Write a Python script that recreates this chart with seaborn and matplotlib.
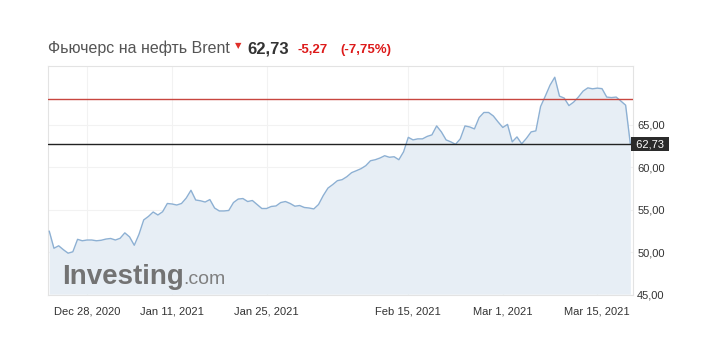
import numpy as np
import pandas as pd
import matplotlib
matplotlib.use("Agg")
import matplotlib.pyplot as plt
import matplotlib.transforms as mtransforms
import seaborn as sns

# ---------------- data ----------------
title_text = "Фьючерс на нефть Brent"
last_price = 62.73
prev_close = 68.00
change_text = "-5,27"
change_pct_text = "(-7,75%)"

start_date = "2020-12-21"
end_date = "2021-03-18"
holidays = ["2020-12-25", "2021-01-01"]
samples_per_day = 2

# price, two readings per trading day
prices = [
    52.51, 50.49, 50.78, 50.32, 49.91, 50.08, 51.54, 51.37, 51.46, 51.46,
    51.37, 51.43, 51.57, 51.64, 51.46, 51.66, 52.30, 51.83, 50.84, 52.13,
    53.82, 54.23, 54.75, 54.40, 54.78, 55.75, 55.69, 55.57, 55.75, 56.39,
    57.30, 56.16, 56.07, 55.92, 56.21, 55.22, 54.87, 54.87, 54.93, 55.86,
    56.27, 56.33, 55.98, 56.10, 55.63, 55.16, 55.16, 55.40, 55.46, 55.86,
    55.98, 55.75, 55.43, 55.51, 55.28, 55.22, 55.11, 55.63, 56.68, 57.56,
    57.97, 58.43, 58.55, 58.90, 59.37, 59.60, 59.84, 60.19, 60.77, 60.89,
    61.09, 61.36, 61.18, 61.24, 60.89, 61.82, 63.52, 63.22, 63.34, 63.34,
    63.63, 63.81, 64.86, 64.16, 63.22, 62.99, 62.70, 63.34, 64.86, 64.74,
    64.51, 65.85, 66.44, 66.44, 66.03, 65.33, 64.68, 65.04, 62.99, 63.57,
    62.76, 63.40, 64.16, 64.28, 67.14, 68.36, 69.65, 70.58, 68.36, 68.13,
    67.25, 67.66, 68.25, 68.95, 69.33, 69.22, 69.30, 69.24, 68.25, 68.19,
    68.25, 67.78, 67.30, 62.73,
]

tick_dates = ["2020-12-28", "2021-01-11", "2021-01-25",
              "2021-02-15", "2021-03-01", "2021-03-15"]
tick_labels = ["Dec 28, 2020", "Jan 11, 2021", "Jan 25, 2021",
               "Feb 15, 2021", "Mar 1, 2021", "Mar 15, 2021"]
y_ticks = [45, 50, 55, 60, 65]
y_tick_labels = ["45,00", "50,00", "55,00", "60,00", "65,00"]

# ---------------- build trading-day axis ----------------
days = pd.bdate_range(start_date, end_date)
days = days[~days.isin(pd.to_datetime(holidays))]
day_index = {d: i for i, d in enumerate(days)}
t = np.arange(len(prices)) / samples_per_day
tick_pos = [day_index[pd.Timestamp(d)] for d in tick_dates]
df = pd.DataFrame({"t": t, "price": prices})

# ---------------- style ----------------
sns.set_theme(style="white")
plt.rcParams["font.family"] = ["Liberation Sans", "DejaVu Sans"]

W, H = 707, 362
fig = plt.figure(figsize=(W / 100, H / 100), dpi=100)
ax = fig.add_axes([48 / W, 1 - 295 / H, (633 - 48) / W, (295 - 66) / H])

ymin, ymax = 45.1, 71.9
line_col = "#8db0d3"
fill_col = "#e7eef5"

ax.fill_between(df["t"], df["price"], ymin, color=fill_col, lw=0, zorder=1)
sns.lineplot(data=df, x="t", y="price", ax=ax, color=line_col, lw=1.0, zorder=3)

ax.axhline(prev_close, color="#c8463f", lw=1.0, zorder=4)
ax.axhline(last_price, color="#222222", lw=1.0, zorder=4)

ax.set_xlim(-0.13, 61.78)
ax.set_ylim(ymin, ymax)

ax.set_xticks(tick_pos)
ax.set_xticklabels(tick_labels)
ax.yaxis.tick_right()
ax.set_yticks(y_ticks)
ax.set_yticklabels(y_tick_labels)
ax.tick_params(axis="x", length=0, pad=8, labelsize=8, labelcolor="#333333")
ax.tick_params(axis="y", length=0, pad=3, labelsize=8, labelcolor="#333333")
ax.set_xlabel("")
ax.set_ylabel("")

ax.grid(True, color="#f2f2f2", lw=0.8, zorder=0)
ax.set_axisbelow(True)
for s in ax.spines.values():
    s.set_color("#e3e3e3")
    s.set_linewidth(0.8)

# last price box on right
trans = mtransforms.blended_transform_factory(ax.transAxes, ax.transData)
ax.text(1.0, last_price, " 62,73 ", transform=trans, ha="left", va="center",
        color="white", fontsize=8, zorder=6, clip_on=False,
        bbox=dict(boxstyle="square,pad=0.18", fc="#2b2b2b", ec="none"))

# watermark
ax.text(0.024, 0.048, "Investing", transform=ax.transAxes, fontsize=20,
        fontweight="bold", color="#737373", ha="left", va="baseline", zorder=2)
ax.text(0.231, 0.048, ".com", transform=ax.transAxes, fontsize=14,
        color="#808080", ha="left", va="baseline", zorder=2)

# header
by = 1 - 53 / H
fig.text(48 / W, by, title_text, fontsize=11.5, color="#555555",
         ha="left", va="baseline")
fig.text(235 / W, 1 - 48 / H, "▼", fontsize=6, color="#e0302a",
         ha="left", va="baseline", family=["DejaVu Sans"])
fig.text(247 / W, by, "62,73", fontsize=12, fontweight="bold",
         color="#333333", ha="left", va="baseline")
fig.text(298 / W, by, change_text, fontsize=9.5, fontweight="bold",
         color="#dd1a1a", ha="left", va="baseline")
fig.text(340 / W, by, change_pct_text, fontsize=9.5, fontweight="bold",
         color="#dd1a1a", ha="left", va="baseline")

fig.savefig("out.png", dpi=100, facecolor="white")
